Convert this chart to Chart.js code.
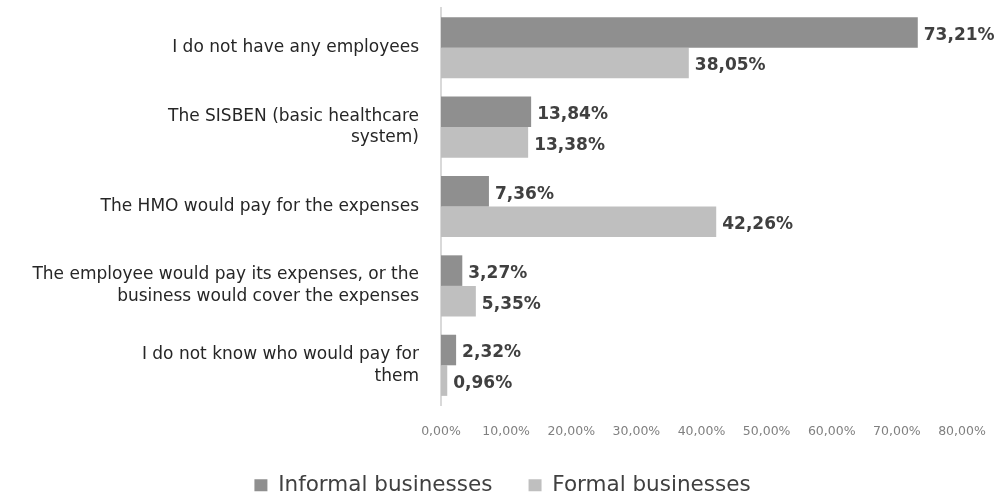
<!DOCTYPE html>
<html>
<head>
<meta charset="utf-8">
<script src="https://cdn.jsdelivr.net/npm/chart.js@4"></script>
<style>
  html, body { margin: 0; padding: 0; background: #fff; }
  #wrap { width: 1005px; height: 497px; }
</style>
</head>
<body>
<div id="wrap"><canvas id="payChart"></canvas></div>
<script>
var categories = [
  ["I do not have any employees"],
  ["The SISBEN (basic healthcare", "system)"],
  ["The HMO would pay for the expenses"],
  ["The employee would pay its expenses, or the", "business would cover the expenses"],
  ["I do not know who would pay for", "them"]
];
var informal = [73.21, 13.84, 7.36, 3.27, 2.32];
var formal = [38.05, 13.38, 42.26, 5.35, 0.96];
var seriesNames = ["Informal businesses", "Formal businesses"];

var FONT = "'DejaVu Sans', 'Open Sans', sans-serif";

function pct(v) {
  return v.toFixed(2).replace('.', ',') + '%';
}

// value labels just past the end of each bar
var valueLabels = {
  id: 'valueLabels',
  afterDatasetsDraw: function(chart) {
    var ctx = chart.ctx;
    ctx.save();
    ctx.font = "bold 17px " + FONT;
    ctx.fillStyle = "#404040";
    ctx.textAlign = "left";
    ctx.textBaseline = "middle";
    chart.data.datasets.forEach(function(ds, i) {
      chart.getDatasetMeta(i).data.forEach(function(bar, j) {
        ctx.fillText(pct(ds.data[j]), bar.x + 6, bar.y + 3);
      });
    });
    ctx.restore();
  }
};

// center the legend on the whole canvas, not just the padded area
var legendCenter = {
  id: 'legendCenter',
  afterLayout: function(chart) {
    var lg = chart.legend;
    if (!lg) return;
    lg.left = 0;
    lg.right = chart.width;
    lg.width = chart.width;
  }
};

var chart = new Chart(document.getElementById('payChart'), {
  type: 'bar',
  data: {
    labels: categories,
    datasets: [
      { label: seriesNames[0], data: informal, backgroundColor: '#8f8f8f' },
      { label: seriesNames[1], data: formal, backgroundColor: '#bfbfbf' }
    ]
  },
  options: {
    indexAxis: 'y',
    responsive: true,
    maintainAspectRatio: false,
    animation: false,
    layout: { padding: { top: 8, right: 43, bottom: -9, left: 0 } },
    datasets: { bar: { categoryPercentage: 0.77, barPercentage: 1.0 } },
    scales: {
      x: {
        min: 0,
        max: 80,
        ticks: {
          stepSize: 10,
          color: '#808080',
          font: { family: FONT, size: 12.5 },
          padding: 11,
          maxRotation: 0,
          callback: function(v) { return pct(v); }
        },
        grid: { display: false },
        border: { display: false },
        afterFit: function(scale) { scale.height += 22.5; }
      },
      y: {
        ticks: {
          color: '#262626',
          font: { family: FONT, size: 17, lineHeight: 1.28 },
          padding: 14,
          autoSkip: false
        },
        grid: { display: false },
        border: { color: '#d9d9d9', width: 2 },
        afterFit: function(scale) {
          scale.width = 441;
          // labels sit inside their band, no extra room needed above/below
          scale.paddingTop = 0;
          scale.paddingBottom = 0;
        }
      }
    },
    plugins: {
      legend: {
        position: 'bottom',
        labels: {
          color: '#404040',
          font: { family: FONT, size: 21.5 },
          boxWidth: 13,
          boxHeight: 12,
          padding: 2,
          // extra trailing space keeps the two entries apart
          generateLabels: function(chart) {
            var items = Chart.defaults.plugins.legend.labels.generateLabels(chart);
            items[0].text = items[0].text + '     ';
            return items;
          }
        }
      },
      tooltip: { enabled: false }
    }
  },
  plugins: [valueLabels, legendCenter]
});
</script>
</body>
</html>
